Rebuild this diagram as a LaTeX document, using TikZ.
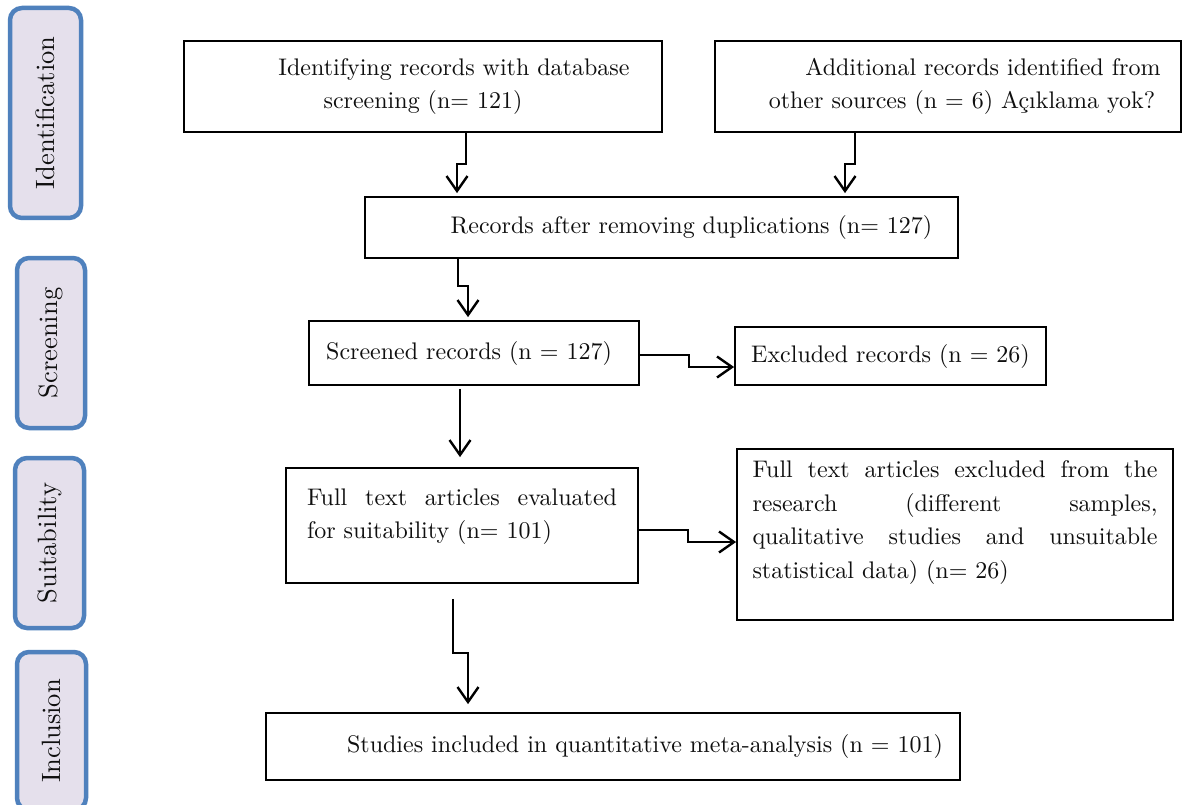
\documentclass[tikz,border=0pt]{standalone}
\usepackage{fontspec}
\newfontfamily\lmten{lmroman10-regular.otf}
\usetikzlibrary{arrows.meta,calc}
\definecolor{sideblue}{RGB}{79,129,189}
\definecolor{sidefill}{RGB}{229,224,236}
\definecolor{txt}{RGB}{15,15,15}
\tikzset{
  box/.style={draw=black, line width=1.8pt, inner sep=0pt, text=txt,
    font=\lmten\fontsize{24}{33.5}\selectfont},
  sidebox/.style={draw=sideblue, fill=sidefill, line width=4.5pt, rounded corners=12pt,
    inner sep=0pt, rotate=90, text=txt, font=\lmten\fontsize{26.5}{28}\selectfont},
  arr/.style={line width=2.4pt, -{Straight Barb[length=15pt,width=21pt]}},
}
\begin{document}
\begin{tikzpicture}[x=1pt,y=-1pt]
\useasboundingbox (0,0) rectangle (1183,805);
\fill[white] (0,0) rectangle (1183,805);

% side labels
\node[sidebox, minimum width=210, minimum height=71] (sid) at (45.5,113) {Identification};
\node[sidebox, minimum width=170, minimum height=68] (sscr) at (51,343) {Screening};
\node[sidebox, minimum width=170, minimum height=69] (ssui) at (49.5,543) {Suitability};
\node[sidebox, minimum width=158, minimum height=69] (sinc) at (51.5,731) {Inclusion};

% main boxes
\node[box, minimum width=478, minimum height=91, text width=470, align=center] (b1) at (423,86.5)
  {\hspace*{62pt}Identifying records with database\\screening (n= 121)};
\node[box, minimum width=466, minimum height=91, text width=460, align=center] (b2) at (948,86.5)
  {\hspace*{70pt}Additional records identified from\\\hspace*{28pt}other sources (n = 6) Açıklama yok?};
\node[box, minimum width=593, minimum height=61, text width=585, align=center] (b3) at (661.5,227.5)
  {\hspace*{60pt}Records after removing duplications (n= 127)};
\node[box, minimum width=330, minimum height=64, text width=325, align=center] (b4) at (474,353)
  {Screened records (n = 127)\hspace*{10pt}};
\node[box, minimum width=311, minimum height=58, text width=305, align=center] (b5) at (890.5,356)
  {Excluded records (n = 26)};
\node[box, minimum width=352, minimum height=115, text width=310, align=justify] (b6) at (462,525.5)
  {Full text articles evaluated\linebreak for suitability (n= 101)\\[-10pt]\mbox{}};
\node[box, minimum width=436, minimum height=171, text width=405, align=justify] (b7) at (955,534.5)
  {Full text articles excluded from the\linebreak research (different samples,\linebreak qualitative studies and unsuitable\linebreak statistical data) (n= 26)\\[-4pt]\mbox{}};
\node[box, minimum width=694, minimum height=67, text width=685, align=center] (b8) at (613,746.5)
  {\hspace*{64pt}Studies included in quantitative meta-analysis (n = 101)};

% connectors
\draw[arr, shorten >=3pt] ([xshift=43pt]b1.south) -- ++(0,31) -| ([xshift=-204.5pt]b3.north);
\draw[arr, shorten >=3pt] ([xshift=-93pt]b2.south) -- ++(0,31) -| ([xshift=183.5pt]b3.north);
\draw[arr, shorten >=3pt] ([xshift=-203.5pt]b3.south) -- ++(0,27) -| ([xshift=-6pt]b4.north);
\draw[arr] ([yshift=-2pt]b4.east) -- ++(49,0) |- ([yshift=-11pt]b5.west);
\draw[arr, shorten <=3pt, shorten >=10pt] ([xshift=-14pt]b4.south) -- ([xshift=-2pt]b6.north);
\draw[arr] ([yshift=-4.5pt]b6.east) -- ++(49,0) |- ([yshift=-7.5pt]b7.west);
\draw[arr, shorten <=15pt, shorten >=8pt] ([xshift=-9pt]b6.south) -- ++(0,69) -| ([xshift=-145pt]b8.north);
\end{tikzpicture}
\end{document}
